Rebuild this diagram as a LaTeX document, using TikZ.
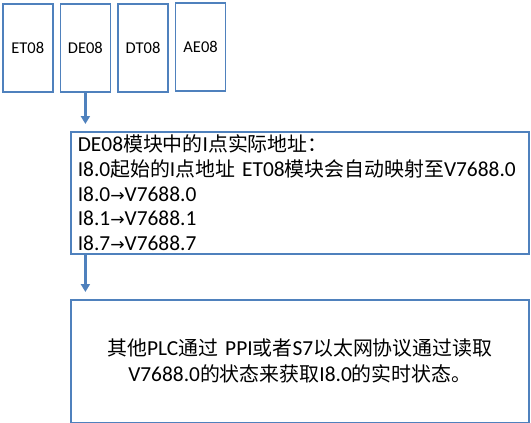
\documentclass[tikz,border=0pt]{standalone}
\usepackage{fontspec}
\usepackage{tikz}
\usetikzlibrary{arrows.meta,positioning}
\setmainfont{Carlito}
\newfontfamily\cjk{Noto Sans CJK SC}[Scale=0.93]
\newfontfamily\arrfont{DejaVu Sans}[Scale=0.8]
\newcommand{\zh}[1]{{\cjk #1}}
\newcommand{\toV}{{\arrfont →}}
\newcommand{\mapfont}{\fontsize{21.4}{24.6}\selectfont\lineskiplimit=-20pt\relax}
\newcommand{\plcfont}{\fontsize{21.4}{26}\selectfont\lineskiplimit=-20pt\relax}
\definecolor{officeblue}{HTML}{4F81BD}
\tikzset{
	modbox/.style={draw=officeblue, line width=1.6pt, minimum width=50pt, minimum height=88pt,
		inner sep=0pt, font=\fontsize{16.5}{19}\selectfont},
	infobox/.style={draw=officeblue, line width=1.6pt, minimum width=458pt, minimum height=122pt,
		inner xsep=7pt, inner ysep=0pt},
	flow/.style={officeblue, line width=2.4pt, -{Triangle[length=8pt,width=9pt]}, shorten >=7pt}
}

\begin{document}
\begin{tikzpicture}[x=1pt,y=-1pt]
\useasboundingbox (0,0) rectangle (531,423);
%row of modules
\node[modbox, anchor=north west] (et) at (2,3) {ET08};
\node[modbox, right=6pt of et] (de) {DE08};
\node[modbox, right=6pt of de] (dt) {DT08};
\node[modbox, right=6pt of dt, yshift=1pt] (ae) {AE08};

%address mapping
\node[infobox, anchor=north west, text width=444pt, align=left, font=\mapfont] (map) at (70,131)
	{DE08\zh{模块中的}I\zh{点实际地址：}\\
	I8.0\zh{起始的}I\zh{点地址} ET08\zh{模块会自动映射至}V7688.0\\
	I8.0\toV V7688.0\\
	I8.1\toV V7688.1\\
	I8.7\toV V7688.7};

%other plc reads it
\node[infobox, anchor=north west, minimum height=123pt, text width=444pt, align=center,
	font=\plcfont] (plc) at (70,299)
	{\zh{其他}PLC\zh{通过} PPI\zh{或者}S7\zh{以太网协议通过读取}\\
	V7688.0\zh{的状态来获取}I8.0\zh{的实时状态。}};

\draw[flow] (de.south) -- (de.south |- map.north);
\draw[flow] (map.south -| de) -- (plc.north -| de);
\end{tikzpicture}
\end{document}
